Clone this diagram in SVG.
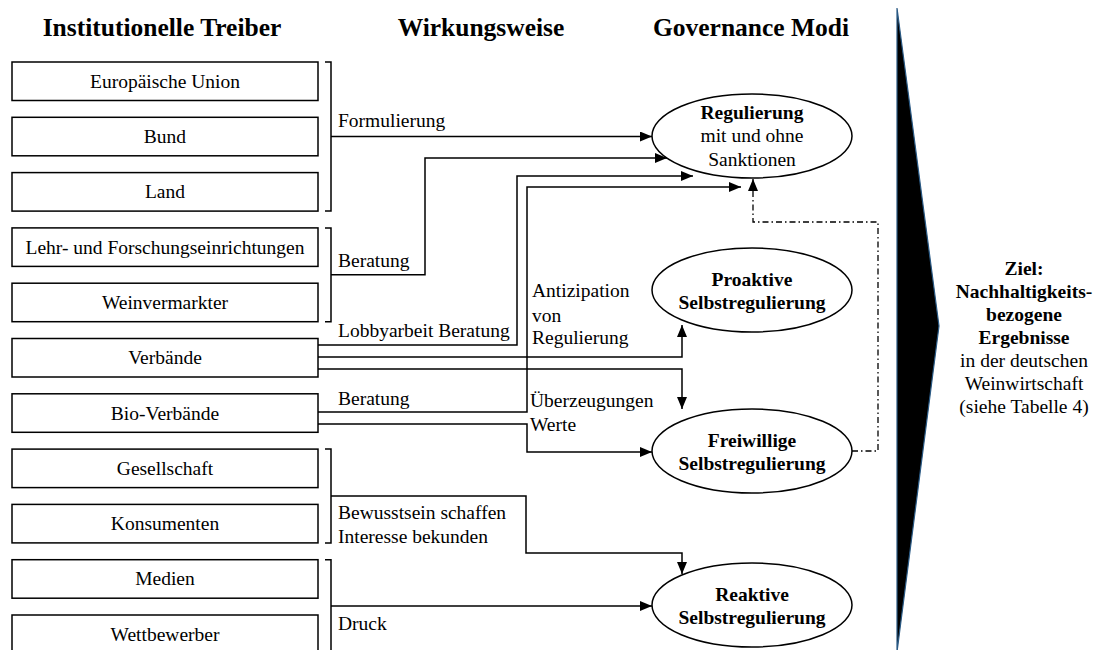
<svg xmlns="http://www.w3.org/2000/svg" width="1105" height="650" viewBox="0 0 1105 650">
<style>
.t{font-family:"Liberation Serif","Times New Roman",serif;font-size:19.5px;fill:#000}
.b{font-weight:bold}
.h{font-family:"Liberation Serif","Times New Roman",serif;font-size:25.5px;font-weight:bold;fill:#000}
.box{fill:#fff;stroke:#000;stroke-width:1.5}
.ell{fill:#fff;stroke:#000;stroke-width:1.5}
.ln{fill:none;stroke:#000;stroke-width:1.5}
.dd{fill:none;stroke:#000;stroke-width:1.3;stroke-dasharray:6 3 1.5 3}
</style>
<defs>
<marker id="ah" viewBox="0 0 12 10" refX="12" refY="5" markerWidth="12" markerHeight="10" markerUnits="userSpaceOnUse" orient="auto"><path d="M0,0 L12,5 L0,10 z" fill="#000"/></marker>
</defs>
<rect width="1105" height="650" fill="#fff"/>
<g id="titles">
<text class="h" x="162" y="36" text-anchor="middle">Institutionelle Treiber</text>
<text class="h" x="481" y="36" text-anchor="middle">Wirkungsweise</text>
<text class="h" x="751" y="36" text-anchor="middle">Governance Modi</text>
</g>
<g id="n-eu"><rect class="box" x="12" y="62" width="306" height="38.5"/><text class="t" x="165" y="87.8" text-anchor="middle">Europäische Union</text></g>
<g id="n-bund"><rect class="box" x="12" y="117.3" width="306" height="38.5"/><text class="t" x="165" y="143" text-anchor="middle">Bund</text></g>
<g id="n-land"><rect class="box" x="12" y="172.6" width="306" height="38.5"/><text class="t" x="165" y="198.3" text-anchor="middle">Land</text></g>
<g id="n-lehr"><rect class="box" x="12" y="227.9" width="306" height="38.5"/><text class="t" x="165" y="253.6" text-anchor="middle">Lehr- und Forschungseinrichtungen</text></g>
<g id="n-wein"><rect class="box" x="12" y="283.2" width="306" height="38.5"/><text class="t" x="165" y="309" text-anchor="middle">Weinvermarkter</text></g>
<g id="n-verb"><rect class="box" x="12" y="338.5" width="306" height="38.5"/><text class="t" x="165" y="364.2" text-anchor="middle">Verbände</text></g>
<g id="n-bio"><rect class="box" x="12" y="393.8" width="306" height="38.5"/><text class="t" x="165" y="419.5" text-anchor="middle">Bio-Verbände</text></g>
<g id="n-ges"><rect class="box" x="12" y="449.1" width="306" height="38.5"/><text class="t" x="165" y="474.8" text-anchor="middle">Gesellschaft</text></g>
<g id="n-kons"><rect class="box" x="12" y="504.4" width="306" height="38.5"/><text class="t" x="165" y="530.1" text-anchor="middle">Konsumenten</text></g>
<g id="n-med"><rect class="box" x="12" y="559.7" width="306" height="38.5"/><text class="t" x="165" y="585.4" text-anchor="middle">Medien</text></g>
<g id="n-wett"><rect class="box" x="12" y="615" width="306" height="38.5"/><text class="t" x="165" y="640.7" text-anchor="middle">Wettbewerber</text></g>

<g id="n-reg"><ellipse class="ell" cx="752" cy="136" rx="100" ry="42"/>
<text class="t b" x="752" y="118.5" text-anchor="middle">Regulierung</text>
<text class="t" x="752" y="142" text-anchor="middle">mit und ohne</text>
<text class="t" x="752" y="165.5" text-anchor="middle">Sanktionen</text></g>
<g id="n-pro"><ellipse class="ell" cx="752" cy="290" rx="100" ry="42"/>
<text class="t b" x="752" y="285.5" text-anchor="middle">Proaktive</text>
<text class="t b" x="752" y="308.5" text-anchor="middle">Selbstregulierung</text></g>
<g id="n-frei"><ellipse class="ell" cx="752" cy="451" rx="100" ry="42"/>
<text class="t b" x="752" y="446.5" text-anchor="middle">Freiwillige</text>
<text class="t b" x="752" y="469.5" text-anchor="middle">Selbstregulierung</text></g>
<g id="n-rea"><ellipse class="ell" cx="752" cy="605" rx="100" ry="42"/>
<text class="t b" x="752" y="600.5" text-anchor="middle">Reaktive</text>
<text class="t b" x="752" y="623.5" text-anchor="middle">Selbstregulierung</text></g>

<g id="n-ziel">
<polygon points="897,8 939,326 897,652" fill="#000" stroke="#2a5a85" stroke-width="1.2"/>
<text class="t b" x="1024" y="275" text-anchor="middle">Ziel:</text>
<text class="t b" x="1024" y="298" text-anchor="middle">Nachhaltigkeits-</text>
<text class="t b" x="1024" y="321" text-anchor="middle">bezogene</text>
<text class="t b" x="1024" y="344" text-anchor="middle">Ergebnisse</text>
<text class="t" x="1024" y="367" text-anchor="middle">in der deutschen</text>
<text class="t" x="1024" y="390" text-anchor="middle">Weinwirtschaft</text>
<text class="t" x="1024" y="413" text-anchor="middle">(siehe Tabelle 4)</text>
</g>

<g id="connectors">
<path class="ln" d="M325,62 H331 V211.1 H325"/>
<path class="ln" d="M325,227.9 H331 V321.7 H325"/>
<path class="ln" d="M325,449.1 H331 V542.9 H325"/>
<path class="ln" d="M325,559.7 H331 V652"/>
<path class="ln" d="M331,136.5 H652" marker-end="url(#ah)"/>
<path class="ln" d="M331,274.8 H425 V158 H667" marker-end="url(#ah)"/>
<path class="ln" d="M318,345 H517 V176 H693" marker-end="url(#ah)"/>
<path class="ln" d="M318,357 H682 V325" marker-end="url(#ah)"/>
<path class="ln" d="M318,369 H682 V409" marker-end="url(#ah)"/>
<path class="ln" d="M318,412 H527 V187 H741" marker-end="url(#ah)"/>
<path class="ln" d="M318,424 H527 V452 H652" marker-end="url(#ah)"/>
<path class="ln" d="M331,496 H526 V553 H682 V574" marker-end="url(#ah)"/>
<path class="ln" d="M331,606 H652" marker-end="url(#ah)"/>
<path class="dd" d="M852,451 H878 V222 H753 V179" marker-end="url(#ah)"/>
<text class="t" x="338" y="126.5">Formulierung</text>
<text class="t" x="338" y="267">Beratung</text>
<text class="t" x="338" y="336.5">Lobbyarbeit Beratung</text>
<text class="t" x="532" y="297">Antizipation</text>
<text class="t" x="532" y="321.5">von</text>
<text class="t" x="532" y="343.5">Regulierung</text>
<text class="t" x="338" y="404.5">Beratung</text>
<text class="t" x="530" y="406.5">Überzeugungen</text>
<text class="t" x="530" y="430.5">Werte</text>
<text class="t" x="338" y="518.5">Bewusstsein schaffen</text>
<text class="t" x="338" y="542.5">Interesse bekunden</text>
<text class="t" x="338" y="629.5">Druck</text>
</g>
</svg>
